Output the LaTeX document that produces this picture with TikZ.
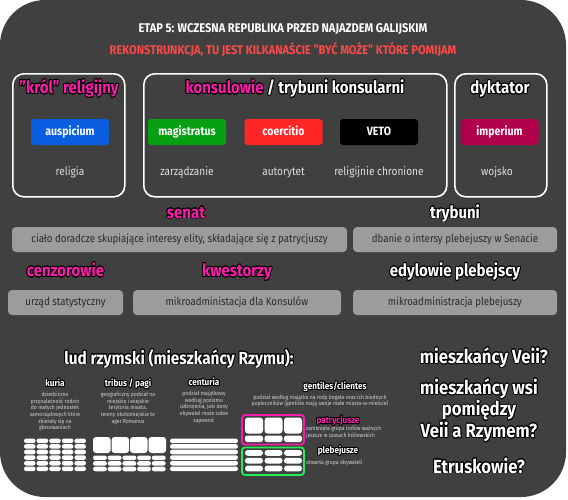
\documentclass[tikz,border=0pt]{standalone}
\usepackage{fontspec}
\setmainfont{Fira Sans}[FakeStretch=0.88]
\usepackage{contour}
\contourlength{0.8pt}
\contournumber{16}
\newcommand\olt[1]{\contour{black}{#1}}
\definecolor{bg}{HTML}{404040}
\definecolor{mag}{HTML}{FF1AAE}
\definecolor{redt}{HTML}{FF4848}
\definecolor{bblue}{HTML}{0A5FE0}
\definecolor{bgreen}{HTML}{06A012}
\definecolor{bred}{HTML}{FF2626}
\definecolor{bcrim}{HTML}{B0004E}
\definecolor{gbox}{HTML}{9C9C9C}
\definecolor{gtext}{HTML}{2A2A2A}
\definecolor{ltext}{HTML}{DEDEDE}
\definecolor{stext}{HTML}{D0D0D0}
\definecolor{grn}{HTML}{22EE55}
\begin{document}
\begin{tikzpicture}[x=1pt,y=-1pt,
  grp/.style={draw=white, line width=1.6pt, rounded corners=11pt, anchor=north west, inner sep=0pt},
  btn/.style={rounded corners=3pt, minimum width=78pt, minimum height=26pt, inner sep=0pt, text=white, text height=8.6pt, text depth=2.4pt, font=\bfseries\fontsize{12}{12}\selectfont},
  lbl/.style={text=ltext, font=\fontsize{11.5}{11.5}\selectfont, inner sep=0pt, text height=8.5pt, text depth=2.5pt},
  gtitle/.style={font=\bfseries\fontsize{17}{17}\selectfont, inner sep=0pt, text height=12.5pt, text depth=3.5pt},
  rtitle/.style={font=\bfseries\fontsize{17}{17}\selectfont, inner sep=0pt, text height=12.5pt, text depth=3.5pt},
  gb/.style={fill=gbox, rounded corners=4pt, minimum height=25pt, inner sep=0pt, text=gtext, text height=8.2pt, text depth=2.4pt, font=\fontsize{11}{11}\selectfont},
  ctitle/.style={font=\bfseries\fontsize{9.3}{9.3}\selectfont, text=white, inner sep=0pt, text height=7pt, text depth=2pt},
  desc/.style={font=\fontsize{5.8}{6.6}\selectfont, text=stext, inner sep=0pt, align=center, anchor=north},
  pill/.style={fill=white, rounded corners=2.3pt},
  big/.style={font=\bfseries\fontsize{19}{15.5}\selectfont, text=white, inner sep=0pt, align=center}
]
\useasboundingbox (0,0) rectangle (568,499);
\fill[white] (0,0) rectangle (568,499);
\fill[bg, rounded corners=45pt] (0,0) rectangle (566,497);

% headers
\node[text=white, font=\bfseries\fontsize{12.6}{12.6}\selectfont, inner sep=0pt] (h1) at (283,29) {ETAP 5: WCZESNA REPUBLIKA PRZED NAJAZDEM GALIJSKIM};
\node[text=redt, font=\bfseries\fontsize{12.6}{12.6}\selectfont, inner sep=0pt] (h2) at (283,50) {REKONSTRUNKCJA, TU JEST KILKANAŚCIE "BYĆ MOŻE" KTÓRE POMIJAM};

% group boxes
\node[grp, minimum width=112pt, minimum height=123pt] (g1) at (12,73) {};
\node[grp, minimum width=303pt, minimum height=123pt] (g2) at (143,73) {};
\node[grp, minimum width=92pt, minimum height=123pt] (g3) at (454,73) {};

\node[gtitle, text=mag] (t1) at (69,89) {\olt{"król" religijny}};
\node[gtitle, text=white] (t2) at (295,89) {\olt{\textcolor{mag}{konsulowie} / trybuni konsularni}};
\node[gtitle, text=white] (t3) at (500,89) {\olt{dyktator}};

\node[btn, fill=bblue] (b1) at (70,132) {auspicium};
\node[btn, fill=bgreen] (b2) at (187,132) {magistratus};
\node[btn, fill=bred] (b3) at (283.5,132) {coercitio};
\node[btn, fill=black] (b4) at (379,132) {VETO};
\node[btn, fill=bcrim] (b5) at (499.5,132) {imperium};

\node[lbl] (l1) at (70,172) {religia};
\node[lbl] (l2) at (187,172) {zarządzanie};
\node[lbl] (l3) at (283.5,172) {autorytet};
\node[lbl] (l4) at (379,172) {religijnie chronione};
\node[lbl] (l5) at (497,172) {wojsko};

% senat / trybuni
\node[rtitle, text=mag] (s1) at (186,213.5) {\olt{senat}};
\node[rtitle, text=white] (s2) at (455,213.5) {\olt{trybuni}};
\node[gb, minimum width=335pt] (sb1) at (179.5,239.5) {ciało doradcze skupiające interesy elity, składające się z patrycjuszy};
\node[gb, minimum width=204pt] (sb2) at (455,239.5) {dbanie o intersy plebejuszy w Senacie};

\node[rtitle, text=mag] (c1) at (65.5,272) {\olt{cenzorowie}};
\node[rtitle, text=mag] (c2) at (237,272) {\olt{kwestorzy}};
\node[rtitle, text=white] (c3) at (455,272) {\olt{edylowie plebejscy}};
\node[gb, minimum width=115pt] (cb1) at (65.5,302.5) {urząd statystyczny};
\node[gb, minimum width=208pt] (cb2) at (237,302.5) {mikroadministacja dla Konsulów};
\node[gb, minimum width=204pt] (cb3) at (455,302.5) {mikroadministracja plebejuszy};

% lud rzymski
\node[big, font=\bfseries\fontsize{17.5}{17.5}\selectfont] (lud) at (179,359) {\olt{lud rzymski (mieszkańcy Rzymu):}};

\node[ctitle] (k) at (55,384) {\olt{kuria}};
\node[desc] (kd) at (55,392) {dziedziczna\\przynależność rodzin\\do małych jednostek\\samorządowych które\\zbierały się na\\głosowaniach};

\node[ctitle] (tr) at (128,384) {\olt{tribus / pagi}};
\node[desc] (trd) at (128,392) {geograficzny podział na\\miejskie i wiejskie\\terytoria miasta.\\tereny okołomiejskie to\\ager Romanus};

\node[ctitle] (ce) at (204,383) {\olt{centuria}};
\node[desc] (ced) at (204,391) {podział majątkowy\\według poziomu\\uzbrojenia, jaki dany\\obywatel może sobie\\zapewnić};

\node[ctitle] (ge) at (335,387) {\olt{gentiles/clientes}};
\node[desc] (ged) at (320,394.5) {podział według majątku na rody bogate oraz ich biednych\\popleczników (gentiles mają swoje małe miasta-w-mieście)};

\node[ctitle, text=mag] (pa) at (338,421) {\olt{patrycjusze}};
\node[desc, align=left, anchor=north west] (pad) at (306,426) {zamknięta grupa rodów ważnych\\jeszcze w czasach królewskich};
\node[ctitle] (pl) at (338,451) {\olt{plebejusze}};
\node[desc, align=left, anchor=north west] (pld) at (306,459.5) {otwarta grupa obywateli};

% kuria pills
\foreach \i in {0,...,4}{
  \foreach \j in {0,...,5}{
    \fill[pill] ({24+\i*12.6},{438.5+\j*5.6}) rectangle ++(11.6,4.6);
  }
}
% tribus
\foreach \i in {0,...,3}{
  \fill[white, rounded corners=3pt] ({93+\i*18.5},437) rectangle ++(17.6,16);
}
\foreach \i in {0,...,4}{
  \foreach \j in {0,...,2}{
    \fill[pill] ({93+\i*14.7},{455.5+\j*5.6}) rectangle ++(13.9,4.6);
  }
}
% centuria
\foreach \j in {0,...,5}{
  \fill[pill] (170,{438.5+\j*5.6}) rectangle ++(68,4.6);
}
% patrycjusze box
\draw[mag, line width=1.8pt, rounded corners=3pt] (242,415) rectangle (304,444.5);
\foreach \i in {0,1,2}{
  \fill[white, rounded corners=3pt] ({245+\i*19.5},417.5) rectangle ++(18,16);
  \fill[pill] ({245+\i*19.5},435.5) rectangle ++(18,6.5);
}
% plebejusze box
\draw[grn, line width=1.8pt, rounded corners=3pt] (242,447.5) rectangle (304,475);
\foreach \i in {0,1,2}{
  \foreach \j in {0,1,2}{
    \fill[pill, rounded corners=2.8pt] ({245+\i*19.5},{450+\j*7.8}) rectangle ++(18,5.8);
  }
}

% right column
\node[big] (v1) at (484,358) {\olt{mieszkańcy Veii?}};
\node[big] (v2) at (479,410.5) {\olt{mieszkańcy wsi}\\\olt{pomiędzy}\\\olt{Veii a Rzymem?}};
\node[big] (v3) at (479,466) {\olt{Etruskowie?}};
\end{tikzpicture}
\end{document}
